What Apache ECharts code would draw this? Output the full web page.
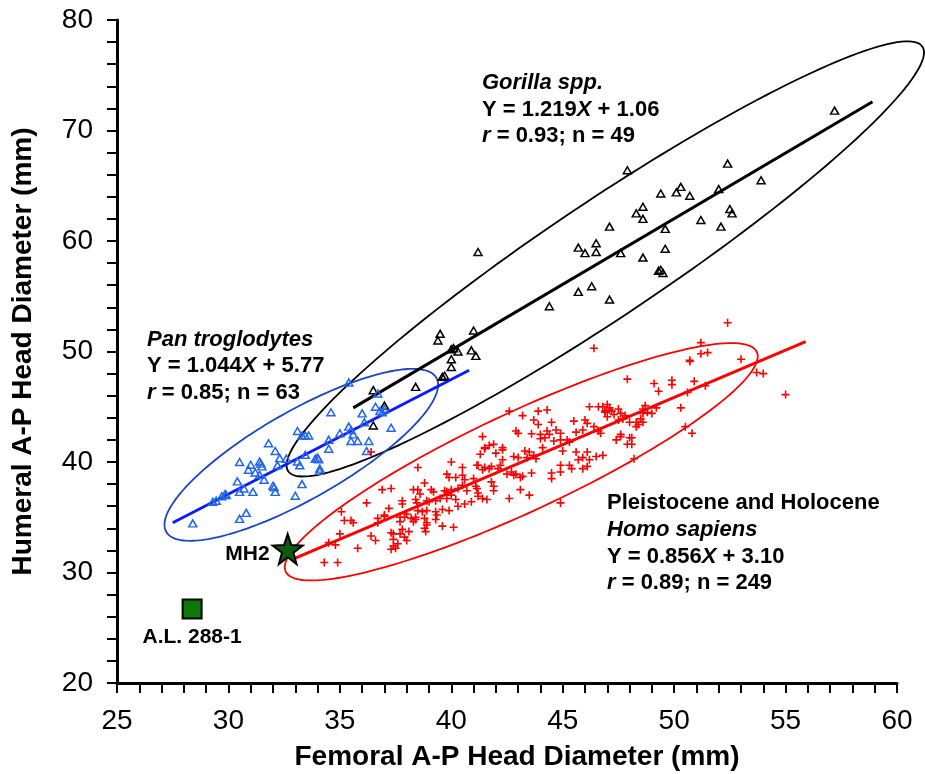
<!DOCTYPE html>
<html><head><meta charset="utf-8">
<script src="https://cdn.jsdelivr.net/npm/echarts@6/dist/echarts.min.js"></script>
<style>html,body{margin:0;padding:0;background:#fff}#c{width:925px;height:774px}</style>
</head><body><div id="c"></div>
<script>
// ---- data ----
var xTicks = [25, 30, 35, 40, 45, 50, 55, 60];
var yTicks = [20, 30, 40, 50, 60, 70, 80];

var panPoints = [
[35.4,47.2],[36.7,46.2],[34.6,44.5],[36.0,44.4],[36.6,45.0],[36.8,44.6],[37.0,44.8],[36.1,43.6],[37.3,43.1],[35.4,43.2],
[35.0,42.6],[35.6,42.5],[33.1,42.8],[33.3,42.4],[33.45,42.4],[33.6,42.4],[34.5,42.0],[35.5,41.9],[35.8,41.9],[36.3,41.9],
[34.5,41.2],[36.2,41.0],[31.8,41.7],[32.1,41.0],[32.3,40.35],[32.6,40.3],[33.45,40.65],[33.9,40.3],[34.0,40.4],[33.1,40.05],
[33.2,39.7],[34.1,39.4],[34.1,39.2],[32.2,39.7],[30.5,40.0],[31.4,40.05],[31.5,39.6],[31.0,39.75],[30.9,39.3],[31.2,39.05],
[31.4,38.85],[31.6,38.4],[30.4,38.25],[32.0,37.85],[32.1,37.3],[33.3,38.0],[30.5,37.3],[30.7,37.6],[31.1,37.3],[29.9,37.0],
[29.7,36.9],[29.3,36.4],[29.45,36.5],[33.0,36.95],[30.8,35.4],[30.5,34.85],[28.4,34.45],[31.45,39.85],[35.5,42.9],[29.85,37.1],
[34.05,40.25],[36.9,44.5],[32.05,37.7]
];

var gorillaPoints = [
[57.2,71.8],[47.9,66.4],[52.4,67.0],[53.9,65.5],[49.4,64.3],[50.1,64.4],[50.3,64.9],[50.7,64.1],[52.0,64.7],[48.6,63.1],
[48.3,62.5],[48.6,62.0],[52.5,62.9],[52.6,62.5],[51.2,61.9],[52.1,61.3],[47.1,61.3],[49.6,61.1],[49.6,59.3],[45.7,59.4],
[46.0,58.9],[46.5,59.8],[46.5,59.0],[47.6,58.9],[48.6,58.5],[49.4,57.4],[49.5,57.1],[45.7,55.4],[46.3,55.9],[47.1,54.7],
[44.4,54.1],[41.2,59.0],[39.5,51.6],[39.4,51.0],[41.0,51.9],[40.0,50.2],[40.3,50.0],[40.9,50.1],[41.1,49.6],[40.0,49.3],
[40.0,48.6],[39.6,47.7],[39.7,47.8],[38.4,46.8],[36.5,46.5],[37.0,45.1],[36.5,43.3],[40.1,50.3],[49.3,57.3]
];

var homoPoints = [
[41.4,42.3],[41.5,41.2],[41.3,40.7],[41.7,41.5],[40.0,40.0],[40.5,39.5],[41.15,39.7],[41.4,39.3],[38.5,39.5],[39.8,38.9],
[39.9,38.6],[40.2,38.6],[40.5,38.8],[40.6,38.4],[41.0,38.5],[38.8,38.1],[38.3,37.5],[38.5,37.5],[38.6,37.1],[39.1,37.5],
[39.2,37.3],[39.7,37.4],[39.8,37.3],[40.0,37.5],[40.3,37.6],[40.5,37.9],[40.7,37.4],[41.15,37.6],[41.2,37.2],[36.9,37.5],
[37.3,37.6],[37.8,36.5],[37.8,36.2],[38.4,36.6],[38.45,36.3],[38.9,36.5],[39.0,36.4],[39.3,36.5],[39.5,36.7],[39.8,36.7],
[40.0,37.0],[40.2,36.6],[40.9,36.4],[40.6,36.2],[41.4,36.7],[36.2,36.3],[37.2,35.8],[38.5,35.6],[38.7,35.5],[38.9,35.6],
[39.3,35.5],[39.6,35.7],[39.9,35.6],[40.3,36.0],[35.07,35.5],[37.7,35.0],[37.9,35.0],[38.4,35.0],[38.4,34.8],[38.8,34.9],
[36.7,34.9],[37.0,35.2],[35.2,34.7],[35.5,34.7],[35.6,34.5],[37.7,34.6],[38.3,34.6],[39.3,34.8],[39.35,35.2],[38.9,34.5],
[38.9,34.3],[39.6,34.2],[40.1,34.1],[37.8,33.9],[37.7,33.5],[37.4,33.5],[37.3,33.6],[38.8,34.0],[38.85,33.7],[35.0,33.5],
[36.4,33.3],[36.6,32.9],[37.9,33.2],[38.0,32.9],[34.5,32.7],[34.8,32.5],[35.8,32.2],[37.4,32.4],[37.5,32.2],[37.3,32.1],
[34.3,30.9],[34.9,30.9],[37.0,35.1],[36.7,34.5],[37.4,33.0],[37.6,32.6],[38.1,33.7],[38.0,35.3],[38.2,34.9],[36.4,40.9],
[42.6,44.6],[43.2,44.2],[43.9,44.6],[44.3,44.7],[43.7,43.8],[43.9,43.4],[44.5,43.6],[42.9,42.8],[43.0,42.6],[43.6,42.55],
[44.0,42.5],[44.3,42.8],[44.4,42.5],[44.7,42.9],[44.9,42.6],[44.0,42.1],[44.2,42.2],[44.6,41.9],[44.9,42.0],[45.2,42.0],
[45.3,41.8],[45.5,43.7],[46.0,43.8],[46.2,45.0],[46.1,43.5],[45.6,42.7],[45.9,42.9],[46.4,43.2],[46.6,42.8],[46.7,42.6],
[46.6,45.0],[46.9,44.6],[47.0,45.2],[47.1,44.9],[47.2,44.6],[47.5,44.8],[47.3,44.3],[47.0,44.1],[47.6,44.4],[47.8,44.2],
[48.0,43.6],[48.3,43.6],[48.5,43.9],[48.6,43.6],[48.6,44.4],[47.5,43.8],[47.4,42.0],[47.6,42.3],[48.1,42.2],[48.1,41.6],
[47.9,41.6],[41.5,41.3],[41.9,41.6],[42.3,41.3],[42.3,41.1],[41.2,39.7],[41.5,39.5],[41.7,39.4],[41.8,39.6],[42.1,39.4],
[42.2,39.7],[42.3,40.2],[42.8,40.5],[43.0,40.4],[43.3,41.0],[43.5,40.9],[43.7,40.6],[43.8,40.3],[43.4,40.4],[42.5,38.9],
[42.7,39.1],[42.8,38.8],[42.9,38.9],[43.1,38.6],[43.2,38.7],[41.1,37.8],[41.8,38.2],[41.9,37.8],[41.9,37.4],[43.1,37.5],
[43.5,37.0],[43.6,39.0],[44.5,39.0],[44.5,38.5],[44.9,39.7],[44.9,39.1],[45.3,39.7],[45.4,39.4],[45.6,40.9],[46.1,40.9],
[45.7,40.2],[45.9,40.4],[46.2,40.2],[45.9,39.4],[46.1,39.6],[46.5,40.5],[46.8,40.6],[42.6,36.7],[41.2,36.9],[41.6,36.6],
[44.9,36.3],[48.2,40.3],[52.4,52.6],[51.2,50.8],[51.2,49.8],[51.5,49.9],[50.7,49.1],[53.0,49.3],[53.7,48.1],[54.0,48.0],
[55.0,46.1],[47.9,47.5],[49.1,47.1],[49.9,47.4],[49.9,47.0],[50.9,47.3],[51.4,46.9],[49.3,46.4],[50.6,46.3],[48.6,44.8],
[48.8,44.5],[48.7,45.1],[49.0,44.4],[49.2,44.9],[50.3,44.9],[50.5,43.2],[50.8,42.6],[46.8,45.0],[46.9,44.5],[47.1,44.7],
[47.7,43.9],[48.3,43.2],[48.4,43.4],[48.0,42.2],[47.6,42.5],[46.4,50.3],[50.7,49.2],[44.1,41.3],[45.0,41.0],[42.0,40.8]
];

// regression line endpoints
var panLine = [[27.5, 34.5], [40.8, 48.3]];
var gorillaLine = [[35.6, 44.9], [58.9, 72.6]];
var homoLine = [[33.0, 31.3], [55.9, 50.9]];

// ellipses: [centerX, centerY, majorTipX, majorTipY, minor/major ratio]
var panEllipse = [33.27, 40.65, 39.33, 47.62, 0.283];
var gorillaEllipse = [46.91, 58.38, 61.14, 77.59, 0.151];
var homoEllipse = [43.14, 40.02, 53.71, 49.96, 0.191];

var mh2 = [32.66, 32.12];
var al288 = [28.37, 26.69];

// ---- chart ----
var FONT = "'Liberation Sans', Arial, sans-serif";
var chart = echarts.init(document.getElementById('c'), null, {renderer: 'canvas'});

function ellipseSeries(params, color) {
  return {
    type: 'custom', clip: false, silent: true, z: 2,
    data: [params],
    encode: {x: [0, 2], y: [1, 3]},
    renderItem: function (p, api) {
      var c = api.coord([api.value(0), api.value(1)]);
      var t = api.coord([api.value(2), api.value(3)]);
      var dx = t[0] - c[0], dy = t[1] - c[1];
      var a = Math.sqrt(dx * dx + dy * dy);
      var b = a * api.value(4);
      var ang = Math.atan2(dy, dx);
      var ca = Math.cos(ang), sa = Math.sin(ang);
      var pts = [];
      for (var i = 0; i < 180; i++) {
        var th = 2 * Math.PI * i / 180;
        var u = a * Math.cos(th), v = b * Math.sin(th);
        pts.push([c[0] + u * ca - v * sa, c[1] + u * sa + v * ca]);
      }
      return {type: 'polygon', shape: {points: pts}, style: {fill: 'none', stroke: color, lineWidth: 1.8}};
    }
  };
}

function lineSeries(data, color) {
  return {type: 'line', data: data, symbol: 'none', silent: true, z: 3,
    lineStyle: {color: color, width: 3}};
}

var plusPath = 'path://M4,0H6V4H10V6H6V10H4V6H0V4H4Z';

function txt(x, y, text, rich) {
  return {type: 'text', left: x, top: y - 13, z: 100,
    style: {text: text, rich: rich, font: 'bold 22px ' + FONT, fill: '#000'}};
}
var rich = {
  b: {fontFamily: FONT, fontSize: 22, fontWeight: 'bold', fontStyle: 'normal', color: '#000', lineHeight: 26},
  i: {fontFamily: FONT, fontSize: 22, fontWeight: 'bold', fontStyle: 'italic', color: '#000', lineHeight: 26}
};

var option = {
  backgroundColor: '#fff',
  animation: false,
  grid: {left: 117, right: 28, top: 20, bottom: 91, containLabel: false, outerBoundsMode: 'none'},
  xAxis: {
    type: 'value', min: xTicks[0], max: xTicks[xTicks.length - 1], interval: 5,
    name: 'Femoral A-P Head Diameter (mm)', nameLocation: 'middle', nameGap: 60,
    nameTextStyle: {fontFamily: FONT, fontSize: 28, fontWeight: 'bold', color: '#000', padding: [0, 0, 0, 20]},
    axisLine: {show: true, lineStyle: {color: '#000', width: 3}},
    axisTick: {show: true, inside: false, length: 10, lineStyle: {color: '#000', width: 2}},
    minorTick: {show: true, splitNumber: 5, length: 10, lineStyle: {color: '#000', width: 2}},
    axisLabel: {fontFamily: FONT, fontSize: 28, color: '#000', margin: 24},
    splitLine: {show: false}
  },
  yAxis: {
    type: 'value', min: yTicks[0], max: yTicks[yTicks.length - 1], interval: 10,
    name: 'Humeral A-P Head Diameter (mm)', nameLocation: 'middle', nameGap: 80, nameRotate: 90,
    nameTextStyle: {fontFamily: FONT, fontSize: 28, fontWeight: 'bold', color: '#000'},
    axisLine: {show: true, lineStyle: {color: '#000', width: 3}},
    axisTick: {show: true, inside: false, length: 10, lineStyle: {color: '#000', width: 2}},
    minorTick: {show: true, splitNumber: 5, length: 10, lineStyle: {color: '#000', width: 2}},
    axisLabel: {fontFamily: FONT, fontSize: 28, color: '#000', margin: 24},
    splitLine: {show: false}
  },
  series: [
    ellipseSeries(gorillaEllipse, '#000000'),
    ellipseSeries(panEllipse, '#1a44cc'),
    ellipseSeries(homoEllipse, '#ff0000'),
    {type: 'scatter', data: gorillaPoints, symbol: 'triangle', symbolSize: [8, 7], z: 4,
      itemStyle: {color: 'rgba(255,255,255,0)', borderColor: '#000', borderWidth: 1.5, opacity: 1}},
    {type: 'scatter', data: panPoints, symbol: 'triangle', symbolSize: [8, 7], z: 4,
      itemStyle: {color: 'rgba(255,255,255,0)', borderColor: '#2266ee', borderWidth: 1.5, opacity: 1}},
    {type: 'scatter', data: homoPoints, symbol: plusPath, symbolSize: 8, z: 4,
      itemStyle: {color: '#ff0000', opacity: 1}},
    lineSeries(gorillaLine, '#000000'),
    lineSeries(panLine, '#0a1cff'),
    lineSeries(homoLine, '#ff0000'),
    {type: 'scatter', data: [al288], symbol: 'rect', symbolSize: 19, z: 6,
      itemStyle: {color: '#0a780a', borderColor: '#000', borderWidth: 2, opacity: 1},
      label: {show: true, position: 'bottom', distance: 7, formatter: 'A.L. 288-1',
        fontFamily: FONT, fontSize: 21, fontWeight: 'bold', color: '#000'}},
    {type: 'scatter', data: [mh2], symbol: 'path://M50,0L61.8,36.2L100,38.2L69.1,61.8L79.4,100L50,77L20.6,100L30.9,61.8L0,38.2L38.2,36.2Z',
      symbolSize: 30, z: 6,
      itemStyle: {color: '#0b5c0b', borderColor: '#000', borderWidth: 2, opacity: 1},
      label: {show: true, position: 'left', distance: 2, offset: [0, 5], formatter: 'MH2',
        fontFamily: FONT, fontSize: 21, fontWeight: 'bold', color: '#000'}}
  ],
  graphic: [
    txt(482, 85, '{i|Gorilla spp.}', rich),
    txt(482, 112, '{b|Y = 1.219}{i|X}{b| + 1.06}', rich),
    txt(482, 138, '{i|r}{b| = 0.93; n = 49}', rich),
    txt(147, 342, '{i|Pan troglodytes}', rich),
    txt(147, 368, '{b|Y = 1.044}{i|X}{b| + 5.77}', rich),
    txt(147, 395, '{i|r}{b| = 0.85; n = 63}', rich),
    txt(607, 505, '{b|Pleistocene and Holocene}', rich),
    txt(607, 532, '{i|Homo sapiens}', rich),
    txt(607, 559, '{b|Y = 0.856}{i|X}{b| + 3.10}', rich),
    txt(607, 585, '{i|r}{b| = 0.89; n = 249}', rich)
  ]
};
chart.setOption(option);
</script>
</body></html>
